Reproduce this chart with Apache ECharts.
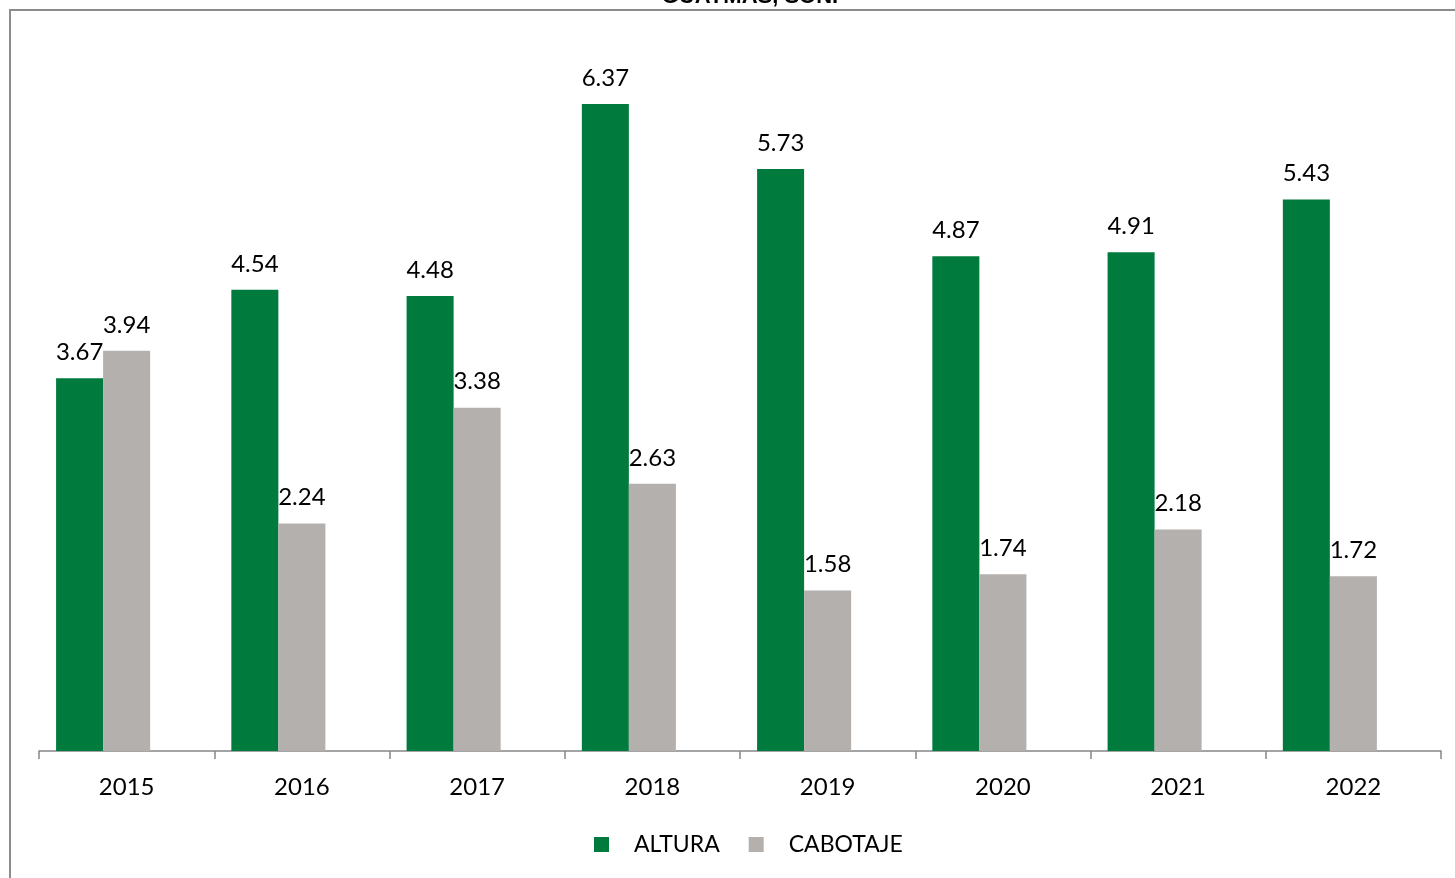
<!DOCTYPE html>
<html><head><meta charset="utf-8">
<script src="https://cdn.jsdelivr.net/npm/echarts@6/dist/echarts.min.js"></script>
<style>html,body{margin:0;padding:0;background:#fff}#c{width:1455px;height:878px}</style>
</head><body><div id="c"></div>
<script>
const titleText = 'GUAYMAS, SON.';
const years = ['2015','2016','2017','2018','2019','2020','2021','2022'];
const altura = [3.67,4.54,4.48,6.37,5.73,4.87,4.91,5.43];
const cabotaje = [3.94,2.24,3.38,2.63,1.58,1.74,2.18,1.72];
const emptySlot = [null,null,null,null,null,null,null,null];
const FONT = 'Lato, "Open Sans", sans-serif';
const chart = echarts.init(document.getElementById('c'));
const lbl = {show:true, position:'top', distance:14, color:'#000', fontSize:24, fontFamily:FONT, formatter: p => p.value.toFixed(2)};
chart.setOption({
  animation:false,
  graphic:[
    {type:'rect', shape:{x:10,y:10,width:1600,height:1000}, style:{fill:null, stroke:'#8c8c8c', lineWidth:2}, z:-1},
    {type:'text', x:750, y:-14, style:{text:titleText, textAlign:'center', fontSize:22, fontWeight:'bold', fontFamily:'"Liberation Sans", Arial, sans-serif', fill:'#000'}}
  ],
  legend:{
    bottom:22, left:594, padding:0, itemWidth:15, itemHeight:15, itemGap:29,
    icon:'rect',
    textStyle:{fontSize:23, fontFamily:FONT, color:'#000', padding:[0,0,0,20]},
    data:['ALTURA','CABOTAJE']
  },
  grid:{left:39, right:14, top:40, bottom:127},
  xAxis:{
    type:'category', data:years,
    axisLine:{lineStyle:{color:'#868686', width:1.5}},
    axisTick:{show:true, length:8, lineStyle:{color:'#868686', width:1.5}},
    axisLabel:{color:'#000', fontSize:24, fontFamily:FONT, margin:24}
  },
  yAxis:{type:'value', min:0, max:7, show:false, splitLine:{show:false}},
  series:[
    {name:'ALTURA', type:'bar', data:altura, barGap:0, barCategoryGap:'19.5%', itemStyle:{color:'#007a3d'}, label:lbl},
    {name:'CABOTAJE', type:'bar', data:cabotaje, itemStyle:{color:'#b4b0ad'}, label:lbl},
    {name:'', type:'bar', data:emptySlot}
  ]
});
</script></body></html>
